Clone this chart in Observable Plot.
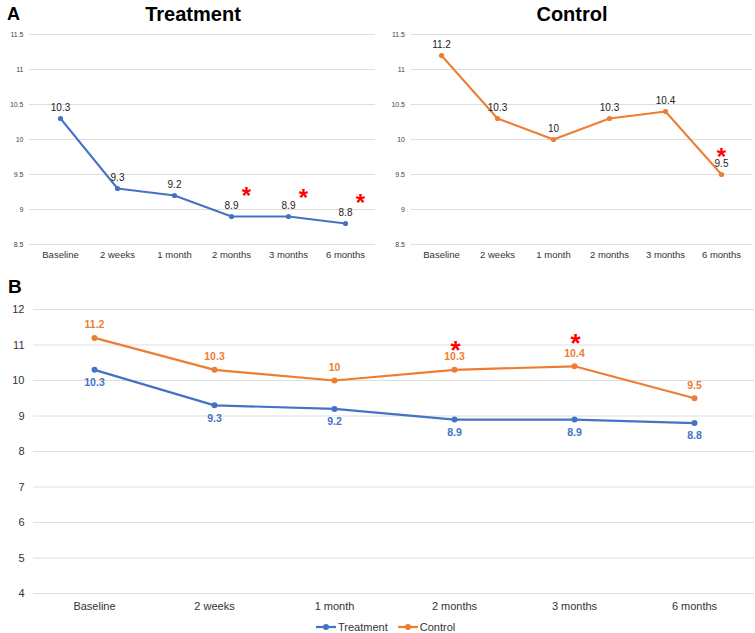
<!DOCTYPE html>
<html>
<head>
<meta charset="utf-8">
<script src="https://cdn.jsdelivr.net/npm/d3@7"></script>
<script src="https://cdn.jsdelivr.net/npm/@observablehq/plot@0.6"></script>
<style>
  html, body { margin: 0; padding: 0; background: #fff; }
  #wrap { position: relative; width: 755px; height: 633px; overflow: hidden; background: #fff;
          font-family: "Liberation Sans", Arial, sans-serif; color: #222; }
  .abs { position: absolute; line-height: 1; white-space: nowrap; }
  .panel { position: absolute; }
  .legend { position: absolute; display: flex; align-items: center; font-size: 11px; color: #333; }
  .legend svg { display: block; }
</style>
</head>
<body>
<div id="wrap"></div>
<script>
// ---- data ----
const categories = ["Baseline", "2 weeks", "1 month", "2 months", "3 months", "6 months"];
const treatment = [10.3, 9.3, 9.2, 8.9, 8.9, 8.8];
const control = [11.2, 10.3, 10.0, 10.3, 10.4, 9.5];
const ticksA = [8.5, 9, 9.5, 10, 10.5, 11, 11.5];
const ticksB = [4, 5, 6, 7, 8, 9, 10, 11, 12];
// significance markers (category, vertical value of the marker)
const starTreatmentCats = ["2 months", "3 months", "6 months"];
const starTreatmentVals = [9.28, 9.25, 9.18];
const starControlCats = ["6 months"];
const starControlVals = [9.83];
const starBCats = ["2 months", "3 months"];
const starBVals = [11.0, 11.22];

// ---- build tables ----
const tData = categories.map((c, i) => ({cat: c, v: treatment[i]}));
const cData = categories.map((c, i) => ({cat: c, v: control[i]}));
const starsT = starTreatmentCats.map((c, i) => ({cat: c, v: starTreatmentVals[i]}));
const starsC = starControlCats.map((c, i) => ({cat: c, v: starControlVals[i]}));
const starsB = starBCats.map((c, i) => ({cat: c, v: starBVals[i]}));

const BLUE = "#4472C4";
const ORANGE = "#ED7D31";
const GRID = "#dedede";
const FONT = "'Liberation Sans', Arial, sans-serif";
const fmt = v => String(v);

const wrap = document.getElementById("wrap");

function panelA(data, stars, color, starDx, width, marginLeft) {
  return Plot.plot({
    width, height: 265,
    marginTop: 34, marginBottom: 21, marginLeft, marginRight: 0,
    style: {fontFamily: FONT, background: "transparent", color: "#333", overflow: "visible"},
    x: {type: "point", domain: categories, padding: 0.5, label: null},
    y: {domain: [8.5, 11.5], label: null},
    marks: [
      Plot.gridY(ticksA, {stroke: GRID, strokeOpacity: 1, strokeWidth: 1}),
      Plot.axisY(ticksA, {tickSize: 0, tickPadding: 6, fontSize: 7, tickFormat: fmt, label: null, fill: "#444"}),
      Plot.axisX({tickSize: 0, tickPadding: 7, fontSize: 9.5, label: null, fill: "#333"}),
      Plot.lineY(data, {x: "cat", y: "v", stroke: color, strokeWidth: 2}),
      Plot.dot(data, {x: "cat", y: "v", fill: color, r: 2.6}),
      Plot.text(data, {x: "cat", y: "v", text: d => fmt(d.v), dy: -11, fontSize: 10, fill: "#222"}),
      Plot.text(stars, {x: "cat", y: "v", text: () => "*", fill: "#ff0000", fontSize: 24, fontWeight: "bold", dx: starDx, dy: 6})
    ]
  });
}

function place(node, left, top) {
  const d = document.createElement("div");
  d.className = "panel";
  d.style.left = left + "px";
  d.style.top = top + "px";
  d.appendChild(node);
  wrap.appendChild(d);
}

// Panel A - Treatment
place(panelA(tData, starsT, BLUE, 15, 375, 29), 0, 0);
// Panel A - Control
place(panelA(cData, starsC, ORANGE, 0, 377, 35.5), 375, 0);

// Panel B - combined
const pB = Plot.plot({
  width: 755, height: 325,
  marginTop: 19, marginBottom: 22, marginLeft: 33, marginRight: 1,
  style: {fontFamily: FONT, background: "transparent", color: "#333", overflow: "visible"},
  x: {type: "point", domain: categories, padding: 0.5, label: null},
  y: {domain: [4, 12], label: null},
  marks: [
    Plot.gridY(ticksB, {stroke: GRID, strokeOpacity: 1, strokeWidth: 1}),
    Plot.axisY(ticksB, {tickSize: 0, tickPadding: 9, fontSize: 11, tickFormat: fmt, label: null, fill: "#333"}),
    Plot.axisX({tickSize: 0, tickPadding: 9, fontSize: 11, label: null, fill: "#333"}),
    Plot.lineY(cData, {x: "cat", y: "v", stroke: ORANGE, strokeWidth: 2.2}),
    Plot.lineY(tData, {x: "cat", y: "v", stroke: BLUE, strokeWidth: 2.2}),
    Plot.dot(cData, {x: "cat", y: "v", fill: ORANGE, r: 3}),
    Plot.dot(tData, {x: "cat", y: "v", fill: BLUE, r: 3}),
    Plot.text(cData, {x: "cat", y: "v", text: d => fmt(d.v), dy: -13, fontSize: 10.5, fontWeight: "bold", fill: ORANGE}),
    Plot.text(tData, {x: "cat", y: "v", text: d => fmt(d.v), dy: 13, fontSize: 10.5, fontWeight: "bold", fill: BLUE}),
    Plot.text(starsB, {x: "cat", y: "v", text: () => "*", fill: "#ff0000", fontSize: 26, fontWeight: "bold", dx: 1, dy: 6})
  ]
});
place(pB, 0, 290);

// Titles and panel letters
function addText(txt, left, top, size, extra) {
  const el = document.createElement("div");
  el.className = "abs";
  el.textContent = txt;
  el.style.left = left + "px";
  el.style.top = top + "px";
  el.style.fontSize = size + "px";
  el.style.fontWeight = "bold";
  el.style.color = "#000";
  if (extra) Object.assign(el.style, extra);
  wrap.appendChild(el);
  return el;
}
addText("A", 7, 5, 18);
addText("B", 8, 277, 19);
addText("Treatment", 193, 4, 20, {transform: "translateX(-50%)"});
addText("Control", 572, 4, 20, {transform: "translateX(-50%)"});

// Legend
const legend = document.createElement("div");
legend.className = "legend";
legend.style.left = "316px";
legend.style.top = "620px";
function legendItem(label, color, gapAfter) {
  const item = document.createElement("div");
  item.style.display = "flex";
  item.style.alignItems = "center";
  item.style.marginRight = gapAfter + "px";
  item.innerHTML = `<svg width="20" height="14"><line x1="0" x2="20" y1="7" y2="7" stroke="${color}" stroke-width="2.2"/><circle cx="10" cy="7" r="3" fill="${color}"/></svg><span style="margin-left:2px">${label}</span>`;
  legend.appendChild(item);
}
legendItem("Treatment", BLUE, 10);
legendItem("Control", ORANGE, 0);
wrap.appendChild(legend);
</script>
</body>
</html>
